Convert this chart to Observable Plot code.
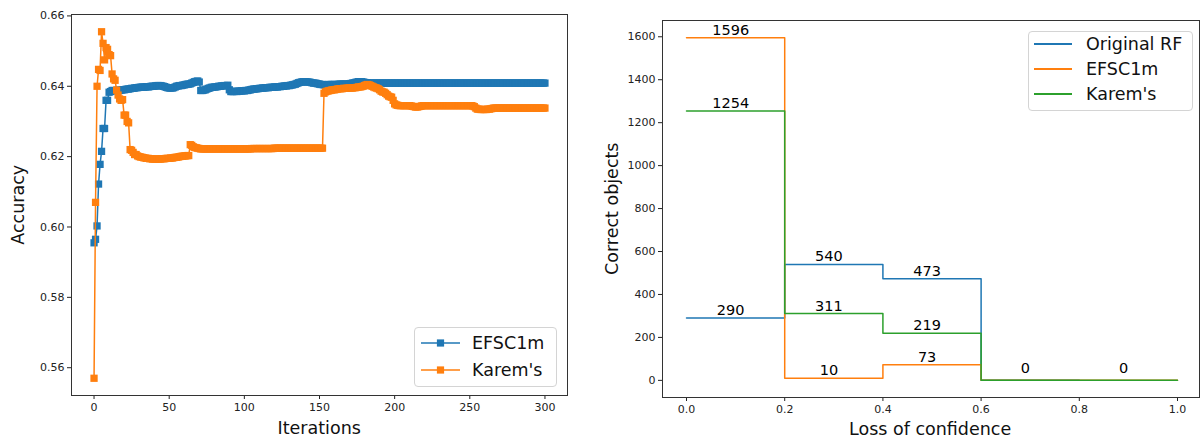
<!DOCTYPE html>
<html>
<head>
<meta charset="utf-8">
<script src="https://cdn.jsdelivr.net/npm/d3@7"></script>
<script src="https://cdn.jsdelivr.net/npm/@observablehq/plot@0.6"></script>
<style>
  body { margin: 0; background: #fff; font-family: "DejaVu Sans", sans-serif; }
  #wrap { position: relative; width: 1200px; height: 441px; overflow: hidden; background: #fff; }
  .panel { position: absolute; top: 0; }
  .axlabel { position: absolute; font-size: 17.5px; color: #111; white-space: nowrap; line-height: 1; }
  .legend { position: absolute; background: rgba(255,255,255,0.85); border: 1px solid #d4d4d4; border-radius: 4px; font-size: 17.5px; color: #111; }
  .legend .row { position: absolute; left: 0; height: 20px; }
  .legend svg { position: absolute; left: 0; top: 0; overflow: visible; }
  .legend span { position: absolute; top: 0; line-height: 20px; white-space: nowrap; }
</style>
</head>
<body>
<div id="wrap"></div>
<script>
// ---------- Left panel data: accuracy per iteration (index = iteration) ----------
const efsc1mAcc = [
  0.5955,0.5965,0.6003,0.6122,0.6178,0.6215,0.6280,0.6280,0.6360,0.6360,
  0.6383,0.6385,0.6388,0.6388,0.6387,0.6388,0.6389,0.6388,0.6389,0.6390,
  0.6390,0.6391,0.6392,0.6392,0.6393,0.6394,0.6394,0.6395,0.6396,0.6396,
  0.6397,0.6397,0.6398,0.6397,0.6398,0.6399,0.6398,0.6399,0.6400,0.6400,
  0.6400,0.6401,0.6402,0.6402,0.6402,0.6401,0.6400,0.6399,0.6397,0.6396,
  0.6395,0.6395,0.6395,0.6396,0.6398,0.6400,0.6401,0.6402,0.6402,0.6403,
  0.6404,0.6405,0.6406,0.6406,0.6407,0.6409,0.6411,0.6413,0.6414,0.6415,
  0.6412,0.6388,0.6388,0.6389,0.6390,0.6392,0.6394,0.6395,0.6397,0.6397,
  0.6398,0.6398,0.6399,0.6400,0.6400,0.6401,0.6401,0.6402,0.6402,0.6403,
  0.6390,0.6385,0.6385,0.6385,0.6386,0.6385,0.6386,0.6386,0.6387,0.6387,
  0.6387,0.6388,0.6388,0.6389,0.6390,0.6391,0.6392,0.6392,0.6393,0.6393,
  0.6394,0.6394,0.6395,0.6395,0.6396,0.6396,0.6396,0.6397,0.6397,0.6397,
  0.6398,0.6398,0.6398,0.6399,0.6399,0.6400,0.6400,0.6401,0.6401,0.6402,
  0.6402,0.6403,0.6404,0.6405,0.6406,0.6408,0.6410,0.6411,0.6412,0.6413,
  0.6413,0.6413,0.6412,0.6412,0.6411,0.6410,0.6409,0.6409,0.6408,0.6407,
  0.6406,0.6405,0.6405,0.6404,0.6404,0.6404,0.6405,0.6405,0.6405,0.6405,
  0.6405,0.6405,0.6405,0.6406,0.6406,0.6406,0.6406,0.6406,0.6406,0.6406,
  0.6407,0.6408,0.6409,0.6410,0.6411,0.6412,0.6413,0.6413,0.6413,0.6412,
  0.6411,0.6410,0.6410,0.6409,0.6409,0.6409,0.6409,0.6409,0.6409,0.6409,
  0.6409,0.6409,0.6409,0.6409,0.6409,0.6409,0.6409,0.6409,0.6409,0.6409,
  0.6409,0.6409,0.6409,0.6409,0.6409,0.6409,0.6409,0.6409,0.6409,0.6409,
  0.6409,0.6409,0.6409,0.6409,0.6409,0.6409,0.6409,0.6409,0.6409,0.6409,
  0.6409,0.6409,0.6409,0.6409,0.6409,0.6409,0.6409,0.6409,0.6409,0.6409,
  0.6409,0.6409,0.6409,0.6409,0.6409,0.6409,0.6409,0.6409,0.6409,0.6409,
  0.6409,0.6409,0.6409,0.6409,0.6409,0.6409,0.6409,0.6409,0.6409,0.6409,
  0.6409,0.6409,0.6409,0.6409,0.6409,0.6409,0.6409,0.6409,0.6409,0.6409,
  0.6409,0.6409,0.6409,0.6409,0.6409,0.6409,0.6409,0.6409,0.6409,0.6409,
  0.6409,0.6409,0.6409,0.6409,0.6409,0.6409,0.6409,0.6409,0.6409,0.6409,
  0.6409,0.6409,0.6409,0.6409,0.6409,0.6409,0.6409,0.6409,0.6409,0.6409,
  0.6409,0.6409,0.6409,0.6409,0.6409,0.6409,0.6409,0.6409,0.6409,0.6409,
  0.6409
];
const karemAcc = [
  0.5570,0.6070,0.6400,0.6448,0.6445,0.6555,0.6522,0.6475,0.6510,0.6505,
  0.6490,0.6487,0.6435,0.6421,0.6417,0.6389,0.6375,0.6364,0.6360,0.6362,
  0.6318,0.6318,0.6300,0.6296,0.6220,0.6218,0.6212,0.6206,0.6206,0.6202,
  0.6200,0.6199,0.6198,0.6197,0.6196,0.6195,0.6195,0.6194,0.6194,0.6193,
  0.6193,0.6193,0.6193,0.6193,0.6193,0.6194,0.6194,0.6194,0.6195,0.6195,
  0.6195,0.6196,0.6196,0.6197,0.6198,0.6198,0.6199,0.6200,0.6201,0.6201,
  0.6202,0.6202,0.6203,0.6203,0.6234,0.6232,0.6228,0.6226,0.6225,0.6224,
  0.6223,0.6222,0.6222,0.6222,0.6222,0.6222,0.6222,0.6222,0.6222,0.6222,
  0.6222,0.6222,0.6222,0.6222,0.6222,0.6222,0.6222,0.6222,0.6222,0.6222,
  0.6222,0.6222,0.6222,0.6222,0.6222,0.6222,0.6222,0.6222,0.6222,0.6222,
  0.6222,0.6222,0.6222,0.6222,0.6222,0.6223,0.6223,0.6223,0.6223,0.6223,
  0.6223,0.6223,0.6223,0.6223,0.6223,0.6223,0.6223,0.6223,0.6223,0.6223,
  0.6224,0.6224,0.6224,0.6224,0.6224,0.6224,0.6224,0.6224,0.6224,0.6224,
  0.6224,0.6224,0.6224,0.6224,0.6224,0.6224,0.6224,0.6224,0.6224,0.6224,
  0.6224,0.6224,0.6224,0.6224,0.6224,0.6224,0.6224,0.6224,0.6224,0.6224,
  0.6224,0.6224,0.6224,0.6380,0.6384,0.6386,0.6387,0.6388,0.6389,0.6390,
  0.6390,0.6391,0.6392,0.6393,0.6393,0.6393,0.6394,0.6394,0.6394,0.6395,
  0.6395,0.6395,0.6395,0.6396,0.6396,0.6397,0.6398,0.6398,0.6399,0.6400,
  0.6402,0.6404,0.6405,0.6404,0.6402,0.6400,0.6398,0.6396,0.6395,0.6393,
  0.6390,0.6386,0.6384,0.6383,0.6380,0.6376,0.6372,0.6370,0.6369,0.6360,
  0.6350,0.6347,0.6346,0.6345,0.6345,0.6345,0.6345,0.6345,0.6345,0.6345,
  0.6345,0.6344,0.6343,0.6342,0.6341,0.6341,0.6342,0.6343,0.6344,0.6345,
  0.6345,0.6345,0.6345,0.6345,0.6345,0.6345,0.6345,0.6345,0.6345,0.6345,
  0.6345,0.6345,0.6345,0.6345,0.6345,0.6345,0.6345,0.6345,0.6345,0.6345,
  0.6345,0.6345,0.6345,0.6345,0.6345,0.6345,0.6345,0.6345,0.6345,0.6345,
  0.6345,0.6345,0.6344,0.6342,0.6338,0.6335,0.6335,0.6334,0.6334,0.6334,
  0.6334,0.6334,0.6335,0.6335,0.6336,0.6337,0.6338,0.6338,0.6338,0.6338,
  0.6338,0.6338,0.6338,0.6338,0.6338,0.6338,0.6338,0.6338,0.6338,0.6338,
  0.6338,0.6338,0.6338,0.6338,0.6338,0.6338,0.6338,0.6338,0.6338,0.6338,
  0.6338,0.6338,0.6338,0.6338,0.6338,0.6338,0.6338,0.6338,0.6338,0.6338,
  0.6338
];
const leftXTicks = [0, 50, 100, 150, 200, 250, 300];
const leftYTicks = [0.56, 0.58, 0.60, 0.62, 0.64, 0.66];

// ---------- Right panel data ----------
const confBins = [0.0, 0.2, 0.4, 0.6, 0.8, 1.0];
const originalRF = [290, 540, 473, 0, 0];
const efsc1mCorrect = [1596, 10, 73, 0, 0];
const karemCorrect = [1254, 311, 219, 0, 0];
const rightXTicks = [0.0, 0.2, 0.4, 0.6, 0.8, 1.0];
const rightYTicks = [0, 200, 400, 600, 800, 1000, 1200, 1400, 1600];

const C_BLUE = "#1f77b4", C_ORANGE = "#ff7f0e", C_GREEN = "#2ca02c";

const wrap = document.getElementById("wrap");

// ---------- Left panel ----------
const blueData = efsc1mAcc.map((v, i) => ({i, v}));
const orangeData = karemAcc.map((v, i) => ({i, v}));

const left = Plot.plot({
  width: 600, height: 441,
  marginLeft: 71, marginRight: 33, marginTop: 14, marginBottom: 46,
  style: {fontFamily: "DejaVu Sans, sans-serif", fontSize: "11px", color: "#222", background: "transparent"},
  x: {domain: [-15, 315]},
  y: {domain: [0.5521, 0.6604]},
  marks: [
    Plot.axisX({ticks: leftXTicks, tickSize: 4, tickPadding: 4, label: null, tickFormat: d3.format("d")}),
    Plot.axisY({ticks: leftYTicks, tickSize: 4, tickPadding: 3, label: null, tickFormat: d3.format(".2f")}),
    Plot.line(blueData, {x: "i", y: "v", stroke: C_BLUE, strokeWidth: 1.5}),
    Plot.dot(blueData, {x: "i", y: "v", symbol: "square", r: 4.1, fill: C_BLUE, stroke: "none"}),
    Plot.line(orangeData, {x: "i", y: "v", stroke: C_ORANGE, strokeWidth: 1.5}),
    Plot.dot(orangeData, {x: "i", y: "v", symbol: "square", r: 4.1, fill: C_ORANGE, stroke: "none"}),
    Plot.frame({stroke: "#333", strokeWidth: 1})
  ]
});
left.classList.add("panel");
left.style.left = "0px";
wrap.appendChild(left);

// ---------- Right panel ----------
function stepSeries(vals, name, endAtLast) {
  const pts = vals.map((v, k) => ({x: confBins[k], y: v, s: name}));
  if (endAtLast) pts.push({x: confBins[vals.length], y: vals[vals.length - 1], s: name});
  return pts;
}
const blueStep = stepSeries(originalRF, "Original RF", false);
const orangeStep = stepSeries(efsc1mCorrect, "EFSC1m", true);
const greenStep = stepSeries(karemCorrect, "Karem's", true);

const labels = [];
[originalRF, efsc1mCorrect, karemCorrect].forEach(series => {
  series.forEach((v, k) => {
    if (v === 0 && labels.some(l => l.bin === k)) return;
    labels.push({bin: k, x: confBins[k] + 0.09, y: v, t: String(v)});
  });
});

const right = Plot.plot({
  width: 600, height: 441,
  marginLeft: 62, marginRight: 1, marginTop: 20, marginBottom: 44,
  style: {fontFamily: "DejaVu Sans, sans-serif", fontSize: "11px", color: "#222", background: "transparent"},
  x: {domain: [-0.0489, 1.0448]},
  y: {domain: [-79.8, 1675.8]},
  marks: [
    Plot.axisX({ticks: rightXTicks, tickSize: 4, tickPadding: 4, label: null, tickFormat: d3.format(".1f")}),
    Plot.axisY({ticks: rightYTicks, tickSize: 4, tickPadding: 3, label: null, tickFormat: d3.format("d")}),
    Plot.line(blueStep, {x: "x", y: "y", curve: "step-after", stroke: C_BLUE, strokeWidth: 1.5}),
    Plot.line(orangeStep, {x: "x", y: "y", curve: "step-after", stroke: C_ORANGE, strokeWidth: 1.5}),
    Plot.line(greenStep, {x: "x", y: "y", curve: "step-after", stroke: C_GREEN, strokeWidth: 1.5}),
    Plot.text(labels.filter(l => l.y > 0), {x: "x", y: "y", text: "t", fontSize: 14.5, fill: "#000",
      lineAnchor: "bottom", dy: -3, textAnchor: "middle"}),
    Plot.text(labels.filter(l => l.y === 0), {x: "x", y: "y", text: "t", fontSize: 14.5, fill: "#000",
      lineAnchor: "bottom", dy: -7, textAnchor: "middle"}),
    Plot.frame({stroke: "#333", strokeWidth: 1})
  ]
});
right.classList.add("panel");
right.style.left = "600px";
wrap.appendChild(right);

// ---------- Axis titles (HTML text) ----------
function addLabel(text, cx, cy, rotate) {
  const d = document.createElement("div");
  d.className = "axlabel";
  d.textContent = text;
  wrap.appendChild(d);
  const w = d.offsetWidth, h = d.offsetHeight;
  d.style.left = (cx - w / 2) + "px";
  d.style.top = (cy - h / 2) + "px";
  if (rotate) d.style.transform = "rotate(-90deg)";
}
addLabel("Accuracy", 19, 205, true);
addLabel("Iterations", 319, 429, false);
addLabel("Correct objects", 613, 209, true);
addLabel("Loss of confidence", 930, 430, false);

// ---------- Legends ----------
function addLegend(x, y, w, h, entries, marker) {
  const box = document.createElement("div");
  box.className = "legend";
  box.style.left = x + "px"; box.style.top = y + "px";
  box.style.width = w + "px"; box.style.height = h + "px";
  entries.forEach((e, k) => {
    const row = document.createElement("div");
    row.className = "row";
    row.style.top = (e.cy - 10) + "px";
    row.style.width = w + "px";
    const ns = "http://www.w3.org/2000/svg";
    const svg = document.createElementNS(ns, "svg");
    svg.setAttribute("width", "50"); svg.setAttribute("height", "20");
    const ln = document.createElementNS(ns, "line");
    ln.setAttribute("x1", e.x1); ln.setAttribute("x2", e.x2);
    ln.setAttribute("y1", 10); ln.setAttribute("y2", 10);
    ln.setAttribute("stroke", e.color); ln.setAttribute("stroke-width", marker ? 1.5 : 2);
    svg.appendChild(ln);
    if (marker) {
      const r = document.createElementNS(ns, "rect");
      const cx = (e.x1 + e.x2) / 2;
      r.setAttribute("x", cx - 3.6); r.setAttribute("y", 6.4);
      r.setAttribute("width", 7.2); r.setAttribute("height", 7.2);
      r.setAttribute("fill", e.color);
      svg.appendChild(r);
    }
    row.appendChild(svg);
    const sp = document.createElement("span");
    sp.textContent = e.label;
    sp.style.left = e.tx + "px";
    row.appendChild(sp);
    box.appendChild(row);
  });
  wrap.appendChild(box);
}
addLegend(414, 327, 141, 58, [
  {label: "EFSC1m", color: C_BLUE, cy: 15, x1: 6, x2: 45, tx: 57},
  {label: "Karem's", color: C_ORANGE, cy: 42, x1: 6, x2: 45, tx: 57}
], true);
addLegend(1028, 31, 163, 78, [
  {label: "Original RF", color: C_BLUE, cy: 12, x1: 5, x2: 43, tx: 57},
  {label: "EFSC1m", color: C_ORANGE, cy: 37, x1: 5, x2: 43, tx: 57},
  {label: "Karem's", color: C_GREEN, cy: 62, x1: 5, x2: 43, tx: 57}
], false);
</script>
</body>
</html>
